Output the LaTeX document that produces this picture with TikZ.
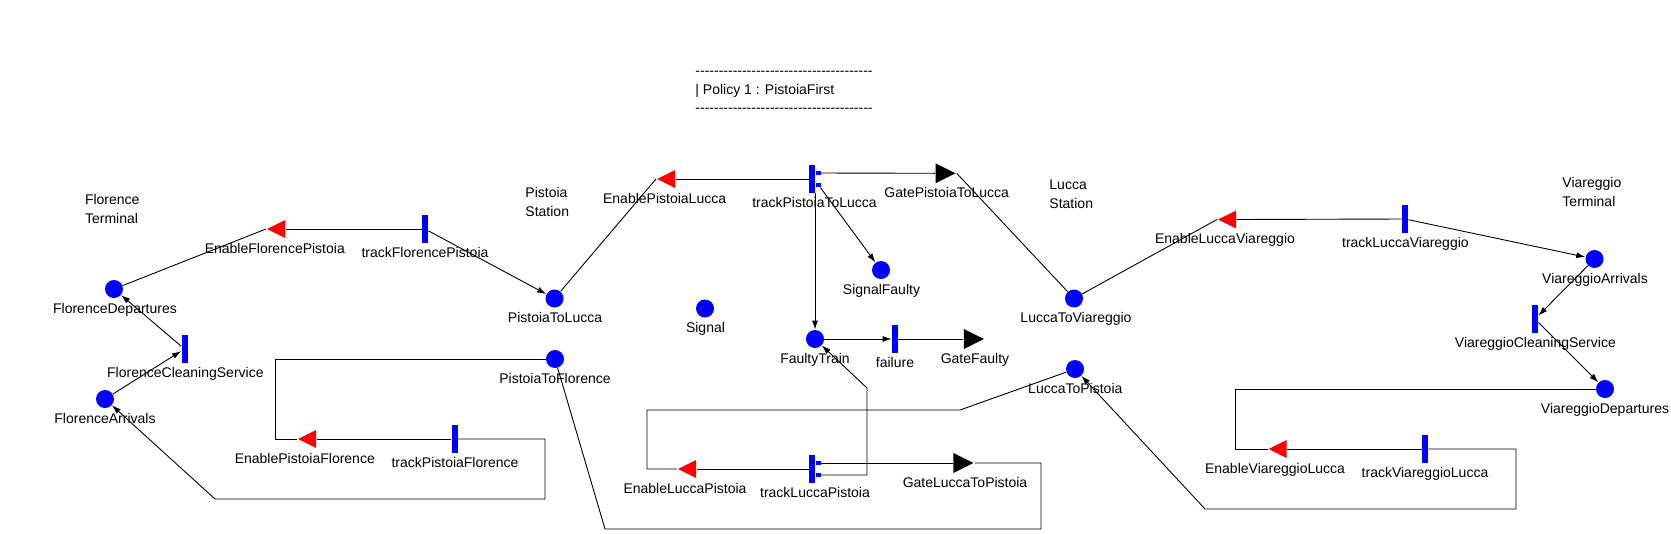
\documentclass[tikz,border=0pt]{standalone}
\usepackage{fontspec}
\setmainfont{Liberation Sans}
\usetikzlibrary{shapes.geometric,arrows.meta}
\definecolor{pblue}{RGB}{0,0,255}
\definecolor{pred}{RGB}{255,0,0}
\newcommand\hyrow{\foreach \k in {1,...,38}{-\kern0pt}}
\begin{document}
\begin{tikzpicture}[x=1pt,y=-1pt,line width=0.9pt,
  placenode/.style={circle,fill=pblue,minimum size=18pt,inner sep=0pt},
  transbar/.style={rectangle,fill=pblue,minimum width=6pt,minimum height=28pt,inner sep=0pt},
  casesq/.style={rectangle,fill=pblue,minimum width=4.5pt,minimum height=4.5pt,inner sep=0pt},
  ingate/.style={isosceles triangle,isosceles triangle stretches,shape border rotate=180,
    minimum width=18pt,minimum height=18pt,inner sep=0pt,fill=pred,anchor=apex},
  outgate/.style={isosceles triangle,isosceles triangle stretches,
    minimum width=20pt,minimum height=20pt,inner sep=0pt,fill=black,anchor=apex},
  lbl/.style={font=\fontsize{14}{17}\selectfont,inner sep=0pt,anchor=base},
  lbll/.style={lbl,anchor=base west},
  arr/.style={-{Latex[length=9pt,width=6pt]}}]
\fill[white] (0,0) rectangle (1671,533);
\useasboundingbox (0,0) rectangle (1671,533);

% policy header
\node[lbll] (pol1) at (695,75.5) {\hyrow};
\node[lbll] (pol2) at (695,94) {| Policy 1 : PistoiaFirst};
\node[lbll] (pol3) at (695,112.5) {\hyrow};

% area labels
\node[lbll] (flo1) at (84.6,204.3) {Florence};
\node[lbll] (flo2) at (84.6,223.3) {Terminal};
\node[lbll] (pis1) at (525,197.7) {Pistoia};
\node[lbll] (pis2) at (525,216.7) {Station};
\node[lbll] (luc1) at (1049,189.3) {Lucca};
\node[lbll] (luc2) at (1049,208.3) {Station};
\node[lbll] (via1) at (1562,187.5) {Viareggio};
\node[lbll] (via2) at (1562,206.5) {Terminal};

% places
\node[placenode] (FD)  at (114,289) {};
\node[placenode] (FA)  at (105,399) {};
\node[placenode] (PTL) at (554.5,298.5) {};
\node[placenode] (PTF) at (555,359) {};
\node[placenode] (Sig) at (705,308.5) {};
\node[placenode] (SF)  at (881,270) {};
\node[placenode] (FT)  at (815,339) {};
\node[placenode] (LTV) at (1074,298.5) {};
\node[placenode] (LTP) at (1075,369) {};
\node[placenode] (VA)  at (1594.5,259) {};
\node[placenode] (VD)  at (1605,389) {};

\node[lbl] (FD-t)  at (115,313.3) {FlorenceDepartures};
\node[lbl] (FA-t)  at (105,423.3) {FlorenceArrivals};
\node[lbl] (PTL-t) at (555,322.8) {PistoiaToLucca};
\node[lbl] (PTF-t) at (555,383.3) {PistoiaToFlorence};
\node[lbl] (Sig-t) at (705.5,332.8) {Signal};
\node[lbl] (SF-t)  at (881.5,294.3) {SignalFaulty};
\node[lbl] (FT-t)  at (815,363.3) {FaultyTrain};
\node[lbl] (LTV-t) at (1076,322.8) {LuccaToViareggio};
\node[lbl] (LTP-t) at (1075.3,393.3) {LuccaToPistoia};
\node[lbl] (VA-t)  at (1595,283.3) {ViareggioArrivals};
\node[lbl] (VD-t)  at (1605,413.3) {ViareggioDepartures};

% transitions
\node[transbar] (tFP)  at (425,229) {};
\node[transbar] (FCS)  at (184.5,349) {};
\node[transbar] (tPF)  at (454.5,439) {};
\node[transbar] (tPL)  at (812,179) {};
\node[transbar] (fail) at (895,339) {};
\node[transbar] (tLP)  at (812,469) {};
\node[transbar] (tLV)  at (1405,219) {};
\node[transbar] (VCS)  at (1535,319) {};
\node[transbar] (tVL)  at (1425,449) {};
\node[casesq] (tPL-a) at (818.5,173) {};
\node[casesq] (tPL-b) at (818.5,185) {};
\node[casesq] (tLP-a) at (818.5,463) {};
\node[casesq] (tLP-b) at (818.5,475) {};

\node[lbl] (tFP-t)  at (425,257.5) {trackFlorencePistoia};
\node[lbl] (FCS-t)  at (185.4,377.5) {FlorenceCleaningService};
\node[lbl] (tPF-t)  at (455,467.5) {trackPistoiaFlorence};
\node[lbl] (tPL-t)  at (814.5,207.5) {trackPistoiaToLucca};
\node[lbl] (fail-t) at (895,367.5) {failure};
\node[lbl] (tLP-t)  at (815,497.5) {trackLuccaPistoia};
\node[lbl] (tLV-t)  at (1405.4,247.5) {trackLuccaViareggio};
\node[lbl] (VCS-t)  at (1535.4,347.5) {ViareggioCleaningService};
\node[lbl] (tVL-t)  at (1425,477.5) {trackViareggioLucca};

% input gates (red)
\node[ingate] (EFP) at (266,229) {};
\node[ingate] (EPF) at (297,439) {};
\node[ingate] (EPL) at (656,179) {};
\node[ingate] (ELP) at (677,469) {};
\node[ingate] (ELV) at (1217,219.5) {};
\node[ingate] (EVL) at (1267.5,449) {};
\node[lbl] (EFP-t) at (274.8,253.3) {EnableFlorencePistoia};
\node[lbl] (EPF-t) at (304.8,463.3) {EnablePistoiaFlorence};
\node[lbl] (EPL-t) at (664.6,203.3) {EnablePistoiaLucca};
\node[lbl] (ELP-t) at (685,493.3) {EnableLuccaPistoia};
\node[lbl] (ELV-t) at (1225,243.8) {EnableLuccaViareggio};
\node[lbl] (EVL-t) at (1275,473.3) {EnableViareggioLucca};

% output gates (black)
\node[outgate] (GPL) at (956.7,173.3) {};
\node[outgate] (GF)  at (985,339) {};
\node[outgate] (GLP) at (974.5,463) {};
\node[lbl] (GPL-t) at (946.7,197.6) {GatePistoiaToLucca};
\node[lbl] (GF-t)  at (975,363.3) {GateFaulty};
\node[lbl] (GLP-t) at (965,487.3) {GateLuccaToPistoia};

% connectors: Florence side
\draw (FD) -- (EFP.west);
\draw (EFP.east) -- (tFP);
\draw[arr] (tFP) -- (PTL);
\draw (PTF) -- (275,359) -- (275,439) -- (EPF.west);
\draw (EPF.east) -- (tPF);
\draw[arr] (tPF) -- (545,439) -- (545,499) -- (215,499) -- (FA);
\draw[arr] (FA) -- (FCS);
\draw[arr] (FCS) -- (FD);

% Pistoia - Lucca
\draw (PTL) -- (EPL.west);
\draw (EPL.east) -- (tPL);
\draw (tPL-a) -- (GPL.west);
\draw (GPL.east) -- (LTV);
\draw[arr] (tPL-b) -- (SF);
\draw[arr] (tPL.south -| FT) -- (FT);
\draw[arr] (FT) -- (fail);
\draw (fail) -- (GF.west);

% Lucca - Pistoia
\draw (LTP) -- (960,410) -- (647,410) -- (647,469) -- (ELP.west);
\draw (ELP.east) -- (tLP);
\draw (tLP-a) -- (GLP.west);
\draw (GLP.east) -- (1041,463) -- (1041,529) -- (605,529) -- (PTF);
\draw[arr] (tLP-b) -- (867,475) -- (867,388) -- (FT);

% Viareggio side
\draw (LTV) -- (ELV.west);
\draw (ELV.east) -- (tLV);
\draw[arr] (tLV) -- (VA);
\draw[arr] (VA) -- (VCS);
\draw[arr] (VCS) -- (VD);
\draw (VD) -- (1235,389) -- (1235,449) -- (EVL.west);
\draw (EVL.east) -- (tVL);
\draw[arr] (tVL) -- (1516,449) -- (1516,509) -- (1205,509) -- (LTP);
\end{tikzpicture}
\end{document}
